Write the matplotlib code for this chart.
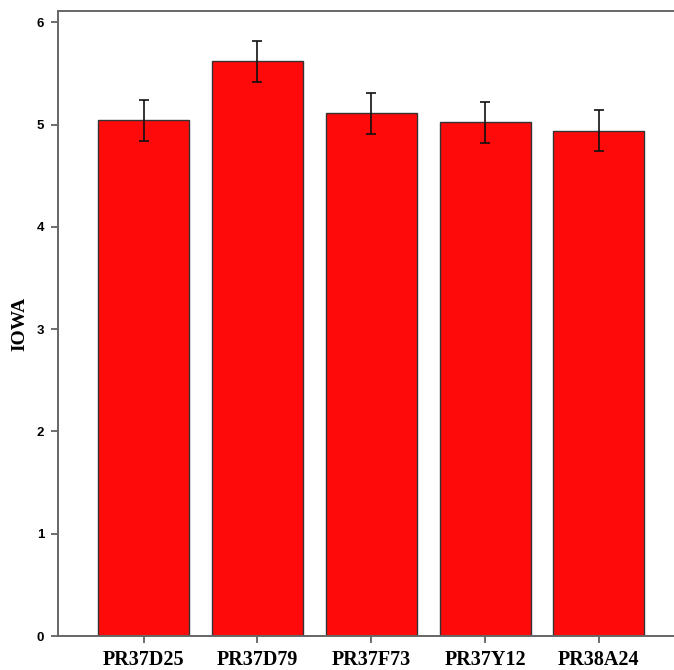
import matplotlib
matplotlib.use("Agg")
import matplotlib.pyplot as plt

hybrids = ["PR37D25", "PR37D79", "PR37F73", "PR37Y12", "PR38A24"]
iowa_mean = [5.04, 5.62, 5.11, 5.02, 4.94]
iowa_err = [0.20, 0.20, 0.20, 0.20, 0.20]

fig = plt.figure(figsize=(6.74, 6.70), dpi=100)
ax = fig.add_axes([0.086, 0.0507, 0.914, 0.9329])

x = range(len(hybrids))
ax.bar(x, iowa_mean, width=0.8, color="#ff0a0a", edgecolor="#333333", linewidth=1.0,
       yerr=iowa_err, capsize=3.5,
       error_kw=dict(ecolor="#111111", elinewidth=1.2, capthick=1.2))

ax.set_xlim(-0.753, 4.66)
ax.set_ylim(0, 6.11)
ax.set_yticks([0, 1, 2, 3, 4, 5, 6])
ax.set_xticks(list(x))
ax.set_xticklabels(hybrids, fontfamily="Liberation Serif", fontweight="bold", fontsize=14.5)
for lab in ax.get_yticklabels():
    lab.set_fontfamily("Liberation Sans")
    lab.set_fontweight("bold")
    lab.set_fontsize(9.5)
ax.set_ylabel("IOWA", fontfamily="Liberation Serif", fontweight="bold", fontsize=14, labelpad=6)

ax.spines["right"].set_visible(False)
for s in ["left", "bottom", "top"]:
    ax.spines[s].set_color("#666666")
    ax.spines[s].set_linewidth(1.4)
ax.tick_params(axis="both", direction="out", length=5, width=1.2, color="#555555")
ax.tick_params(axis="y", pad=5)
ax.tick_params(axis="x", pad=5)

fig.savefig("out.png", dpi=100)
